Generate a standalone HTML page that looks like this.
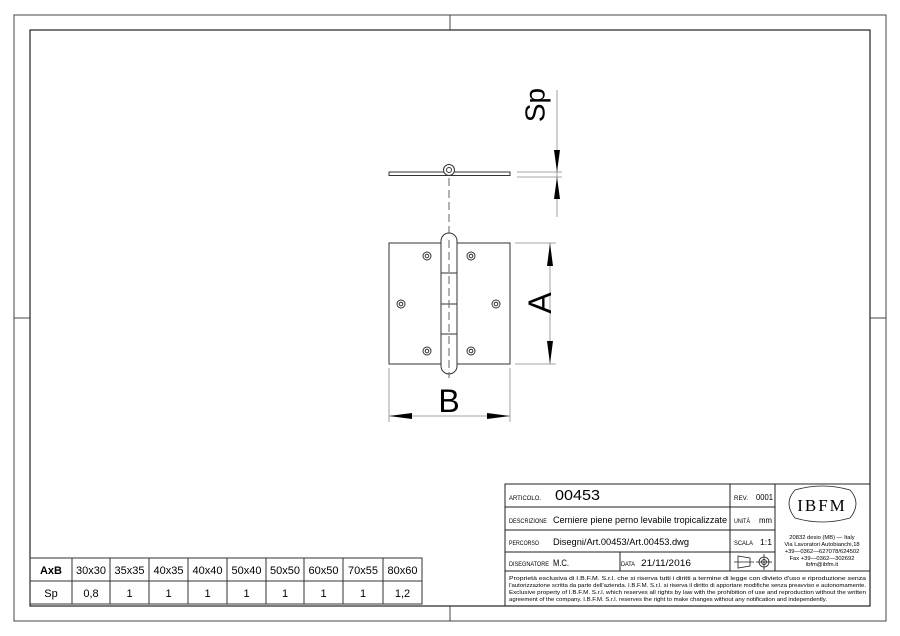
<!DOCTYPE html>
<html><head><style>
html,body{margin:0;padding:0;background:#fff}
svg{display:block}
text{font-family:"Liberation Sans",sans-serif;fill:#000}
</style></head><body>
<svg width="900" height="636" viewBox="0 0 900 636" xmlns="http://www.w3.org/2000/svg">
<rect x="14" y="15" width="872" height="606" fill="none" stroke="#444" stroke-width="1"/>
<rect x="30" y="30" width="840" height="576" fill="none" stroke="#222" stroke-width="1.2"/>
<line x1="450" y1="15" x2="450" y2="30" stroke="#444"/>
<line x1="450" y1="606" x2="450" y2="621" stroke="#444"/>
<line x1="14" y1="318" x2="30" y2="318" stroke="#444"/>
<line x1="870" y1="318" x2="886" y2="318" stroke="#444"/>

<g stroke="#333" fill="none" stroke-width="1">
<rect x="389" y="172" width="121" height="3.5" fill="#fff"/>
<circle cx="449" cy="170" r="5.5" fill="#fff"/>
<circle cx="449" cy="170" r="2.5"/>
<line x1="449" y1="178" x2="449" y2="240" stroke-dasharray="8,4" stroke="#666"/>
<rect x="389" y="243" width="121" height="121"/>
<rect x="441" y="233" width="16" height="141" rx="8" fill="#fff"/>
<line x1="441" y1="273" x2="457" y2="273"/>
<line x1="441" y1="304" x2="457" y2="304"/>
<line x1="441" y1="334" x2="457" y2="334"/>
<line x1="449" y1="240" x2="449" y2="378" stroke-dasharray="8,4" stroke="#666"/>
<g>
<circle cx="427" cy="256" r="4"/><circle cx="427" cy="256" r="1.8"/>
<circle cx="471" cy="256" r="4"/><circle cx="471" cy="256" r="1.8"/>
<circle cx="401" cy="304" r="4"/><circle cx="401" cy="304" r="1.8"/>
<circle cx="496" cy="304" r="4"/><circle cx="496" cy="304" r="1.8"/>
<circle cx="427" cy="351" r="4"/><circle cx="427" cy="351" r="1.8"/>
<circle cx="471" cy="351" r="4"/><circle cx="471" cy="351" r="1.8"/>
</g>
</g>
<g stroke="#888" stroke-width="0.8">
<line x1="517" y1="172" x2="562" y2="172"/><line x1="517" y1="177" x2="562" y2="177"/>
<line x1="557" y1="90" x2="557" y2="217"/>
<line x1="515" y1="243" x2="556" y2="243"/><line x1="515" y1="364" x2="556" y2="364"/>
<line x1="550" y1="243" x2="550" y2="364"/>
<line x1="389" y1="368" x2="389" y2="422"/><line x1="510" y1="368" x2="510" y2="422"/>
<line x1="389" y1="416" x2="510" y2="416"/>
</g>
<g fill="#000">
<polygon points="557,172 554,150 560,150"/>
<polygon points="557,177 554,199 560,199"/>
<polygon points="550,243 547,266 553,266"/>
<polygon points="550,364 547,341 553,341"/>
<polygon points="389,416 412,413 412,419"/>
<polygon points="510,416 487,413 487,419"/>
</g>
<text x="535" y="105" font-size="28" text-anchor="middle" dominant-baseline="central" transform="rotate(-90 535 105)">Sp</text>
<text x="540" y="303" font-size="32" text-anchor="middle" dominant-baseline="central" transform="rotate(-90 540 303)">A</text>
<text x="449" y="412" font-size="32" text-anchor="middle">B</text>

<g stroke="#333" stroke-width="1" fill="none">
<rect x="30" y="558" width="392" height="46"/>
<line x1="30" y1="581" x2="422" y2="581"/>
<line x1="72" y1="558" x2="72" y2="604"/><line x1="110" y1="558" x2="110" y2="604"/>
<line x1="149" y1="558" x2="149" y2="604"/><line x1="188" y1="558" x2="188" y2="604"/>
<line x1="227" y1="558" x2="227" y2="604"/><line x1="266" y1="558" x2="266" y2="604"/>
<line x1="304" y1="558" x2="304" y2="604"/><line x1="343" y1="558" x2="343" y2="604"/>
<line x1="383" y1="558" x2="383" y2="604"/>
</g>
<g font-size="11" text-anchor="middle">
<text x="51" y="574" font-weight="bold">AxB</text>
<text x="91" y="574">30x30</text><text x="129.5" y="574">35x35</text><text x="168.5" y="574">40x35</text>
<text x="207.5" y="574">40x40</text><text x="246.5" y="574">50x40</text><text x="285" y="574">50x50</text>
<text x="323.5" y="574">60x50</text><text x="363" y="574">70x55</text><text x="402.5" y="574">80x60</text>
<text x="51" y="597">Sp</text><text x="91" y="597">0,8</text><text x="129.5" y="597">1</text>
<text x="168.5" y="597">1</text><text x="207.5" y="597">1</text><text x="246.5" y="597">1</text>
<text x="285" y="597">1</text><text x="323.5" y="597">1</text><text x="363" y="597">1</text><text x="402.5" y="597">1,2</text>
</g>

<g stroke="#222" stroke-width="1" fill="none">
<rect x="505" y="484" width="365" height="122"/>
<line x1="505" y1="507" x2="775" y2="507"/>
<line x1="505" y1="530" x2="775" y2="530"/>
<line x1="505" y1="552" x2="775" y2="552"/>
<line x1="505" y1="571" x2="870" y2="571"/>
<line x1="730" y1="484" x2="730" y2="571"/>
<line x1="775" y1="484" x2="775" y2="571"/>
<line x1="620" y1="552" x2="620" y2="571"/>
</g>
<g font-size="6.5">
<text x="509" y="500" textLength="32" lengthAdjust="spacingAndGlyphs">ARTICOLO.</text>
<text x="509" y="523" textLength="38" lengthAdjust="spacingAndGlyphs">DESCRIZIONE</text>
<text x="509" y="545" textLength="30" lengthAdjust="spacingAndGlyphs">PERCORSO</text>
<text x="509" y="566" textLength="40" lengthAdjust="spacingAndGlyphs">DISEGNATORE</text>
<text x="621" y="566" textLength="14" lengthAdjust="spacingAndGlyphs">DATA</text>
<text x="734" y="500" textLength="14" lengthAdjust="spacingAndGlyphs">REV.</text>
<text x="734" y="523" textLength="16" lengthAdjust="spacingAndGlyphs">UNITÀ</text>
<text x="734" y="545" textLength="19" lengthAdjust="spacingAndGlyphs">SCALA</text>
</g>
<text x="555" y="500" font-size="15" fill="#333" textLength="45" lengthAdjust="spacingAndGlyphs">00453</text>
<text x="553" y="523" font-size="9" textLength="174" lengthAdjust="spacingAndGlyphs">Cerniere piene perno levabile tropicalizzate</text>
<text x="553" y="545" font-size="9" textLength="136" lengthAdjust="spacingAndGlyphs">Disegni/Art.00453/Art.00453.dwg</text>
<text x="553" y="566" font-size="9" textLength="16" lengthAdjust="spacingAndGlyphs">M.C.</text>
<text x="641" y="566" font-size="9" textLength="50" lengthAdjust="spacingAndGlyphs">21/11/2016</text>
<text x="756" y="500" font-size="8" textLength="17" lengthAdjust="spacingAndGlyphs">0001</text>
<text x="759" y="523" font-size="8" textLength="13" lengthAdjust="spacingAndGlyphs">mm</text>
<text x="760" y="545" font-size="8" textLength="12" lengthAdjust="spacingAndGlyphs">1:1</text>
<g stroke="#222" fill="none" stroke-width="0.8">
<polygon points="738,556 750,558 750,566 738,568"/>
<line x1="734" y1="562" x2="754" y2="562"/>
<circle cx="764" cy="562" r="5"/><circle cx="764" cy="562" r="2.5"/>
<line x1="756" y1="562" x2="772" y2="562"/><line x1="764" y1="554" x2="764" y2="570"/>
<path d="M795,490 Q822,482 850,490 Q862,503 850,518 Q822,526 795,518 Q783,503 795,490 Z"/>
</g>
<text x="822" y="511" font-size="17" text-anchor="middle" style="font-family:'Liberation Serif',serif;letter-spacing:2px">IBFM</text>
<g font-size="5.8" text-anchor="middle">
<text x="822" y="539">20832 desio (MB) — Italy</text>
<text x="822" y="546">Via Lavoratori Autobianchi,18</text>
<text x="822" y="553">+39—0362—627078/624502</text>
<text x="822" y="560">Fax +39—0362—302692</text>
<text x="822" y="566">ibfm@ibfm.it</text>
</g>
<g font-size="5.2">
<text x="509" y="580" textLength="357" lengthAdjust="spacingAndGlyphs">Proprietà esclusiva di I.B.F.M. S.r.l. che si riserva tutti i diritti a termine di legge con divieto d'uso e riproduzione senza</text>
<text x="509" y="587" textLength="357" lengthAdjust="spacingAndGlyphs">l'autorizzazione scritta da parte dell'azienda. I.B.F.M. S.r.l. si riserva il diritto di apportare modifiche senza preavviso e autonomamente.</text>
<text x="509" y="594" textLength="357" lengthAdjust="spacingAndGlyphs">Exclusive property of I.B.F.M. S.r.l. which reserves all rights by law with the prohibition of use and reproduction without the written</text>
<text x="509" y="601" textLength="318" lengthAdjust="spacingAndGlyphs">agreement of the company. I.B.F.M. S.r.l. reserves the right to make changes without any notification and independently.</text>
</g>
</svg>
</body></html>
